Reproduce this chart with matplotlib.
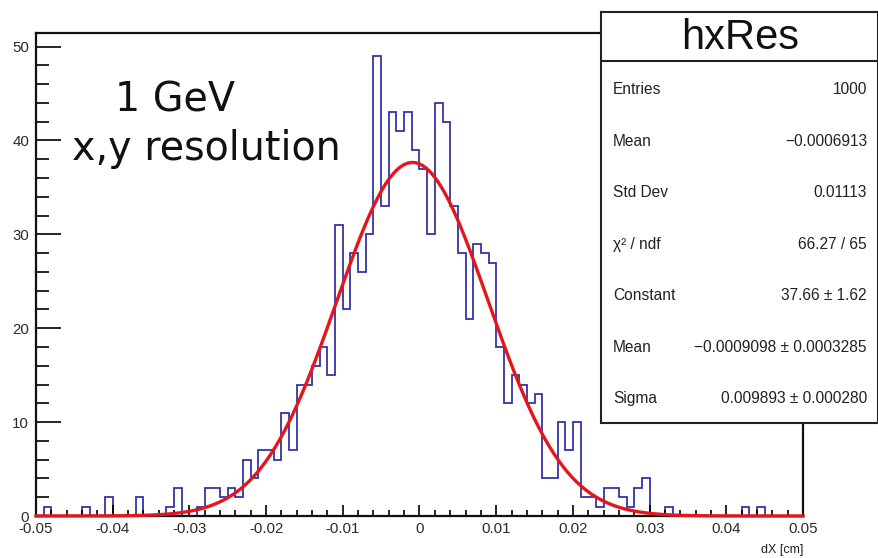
import numpy as np
import matplotlib
matplotlib.use("Agg")
import matplotlib.pyplot as plt

plt.rcParams['axes.unicode_minus'] = False

# histogram hxRes: 100 bins in [-0.05, 0.05]
x_lo, x_hi, n_bins = -0.05, 0.05, 100
counts = [0, 1, 0, 0, 0, 0, 1, 0, 0, 2,
          0, 0, 0, 2, 0, 0, 0, 1, 3, 0,
          0, 1, 3, 3, 2, 3, 2, 6, 4, 7,
          7, 6, 11, 7, 14, 14, 16, 18, 15, 31,
          22, 28, 26, 30, 49, 33, 43, 41, 43, 39,
          37, 30, 44, 42, 33, 28, 21, 29, 28, 27,
          18, 12, 15, 14, 12, 13, 4, 4, 10, 7,
          10, 2, 2, 1, 3, 3, 2, 1, 3, 4,
          0, 0, 1, 0, 0, 0, 0, 0, 0, 0,
          0, 0, 1, 0, 1, 0, 0, 0, 0, 0]

# gaus fit parameters (from stats box)
fit_const = 37.66
fit_mean = -0.0009098
fit_sigma = 0.009893

stat_labels = ["Entries", "Mean", "Std Dev", "\u03c7\u00b2 / ndf",
               "Constant", "Mean", "Sigma"]
stat_values = ["1000", "\u22120.0006913", "0.01113", "66.27 / 65",
               "37.66 \u00b1 1.62", "\u22120.0009098 \u00b1 0.0003285",
               "0.009893 \u00b1 0.000280"]

x_ticks = [-0.05, -0.04, -0.03, -0.02, -0.01, 0, 0.01, 0.02, 0.03, 0.04, 0.05]
x_ticklabels = ["-0.05", "-0.04", "-0.03", "-0.02", "-0.01", "0",
                "0.01", "0.02", "0.03", "0.04", "0.05"]
y_ticks = [0, 10, 20, 30, 40, 50]

W, H = 879, 558
fig = plt.figure(figsize=(W / 100, H / 100), dpi=100)
# frame in pixels: x 36..803, y 33..516
ax = fig.add_axes([36 / W, 1 - 516 / H, (803 - 36) / W, (516 - 33) / H])

edges = np.linspace(x_lo, x_hi, n_bins + 1)
ax.stairs(counts, edges, color="#3434a6", lw=1.3)

xf = np.linspace(x_lo, x_hi, 600)
yf = fit_const * np.exp(-0.5 * ((xf - fit_mean) / fit_sigma) ** 2)
ax.plot(xf, yf, color="#e5161b", lw=2.4, clip_on=False, zorder=3)

ax.set_xlim(x_lo, x_hi)
ax.set_ylim(0, 51.45)
ax.set_xticks(x_ticks)
ax.set_xticklabels(x_ticklabels)
ax.set_xticks(np.arange(-0.05, 0.0501, 0.002), minor=True)
ax.set_yticks(y_ticks)
ax.set_yticks(np.arange(0, 51, 2), minor=True)
ax.tick_params(axis="x", which="major", direction="in", length=8, width=1.2,
               pad=4, labelsize=10.8, labelcolor="#2a2a2a")
ax.tick_params(axis="x", which="minor", direction="in", length=4, width=1.2)
ax.tick_params(axis="y", which="major", direction="in", length=18, width=1.2,
               pad=5, labelsize=10.8, labelcolor="#2a2a2a")
ax.tick_params(axis="y", which="minor", direction="in", length=9, width=1.2)
for lab in ax.get_xticklabels() + ax.get_yticklabels():
    lab.set_family("Liberation Sans")
for s in ax.spines.values():
    s.set_linewidth(1.6)
    s.set_color("#111111")

fig.text(803 / W, 1 - 550 / H, "dX [cm]", ha="right", va="center",
         fontsize=9, family="Liberation Sans", color="#222222")

fig.text(115 / W, 1 - 111 / H, "1 GeV", ha="left", va="baseline",
         fontsize=28.5, family="DejaVu Sans", color="#111111")
fig.text(72 / W, 1 - 160 / H, "x,y resolution", ha="left", va="baseline",
         fontsize=28.5, family="DejaVu Sans", color="#111111")

# stats box
bx0, by0, bx1, by1 = 601, 12, 878, 423
sb = fig.add_axes([bx0 / W, 1 - by1 / H, (bx1 - bx0) / W, (by1 - by0) / H])
sb.set_xlim(bx0, bx1)
sb.set_ylim(by1, by0)
sb.set_xticks([])
sb.set_yticks([])
sb.set_facecolor("white")
for s in sb.spines.values():
    s.set_linewidth(1.5)
    s.set_color("#222222")
sb.axhline(61, color="#222222", lw=1.5)
sb.text(740, 38, "hxRes", ha="center", va="center", fontsize=30,
        family="Liberation Sans", color="#111111")
for i, (lab, val) in enumerate(zip(stat_labels, stat_values)):
    yy = 90 + i * 51.4
    sb.text(613, yy, lab, ha="left", va="center", fontsize=11.2,
            family="Liberation Sans", color="#222222")
    sb.text(867, yy, val, ha="right", va="center", fontsize=11.2,
            family="Liberation Sans", color="#222222")

fig.savefig("out.png", dpi=100)
